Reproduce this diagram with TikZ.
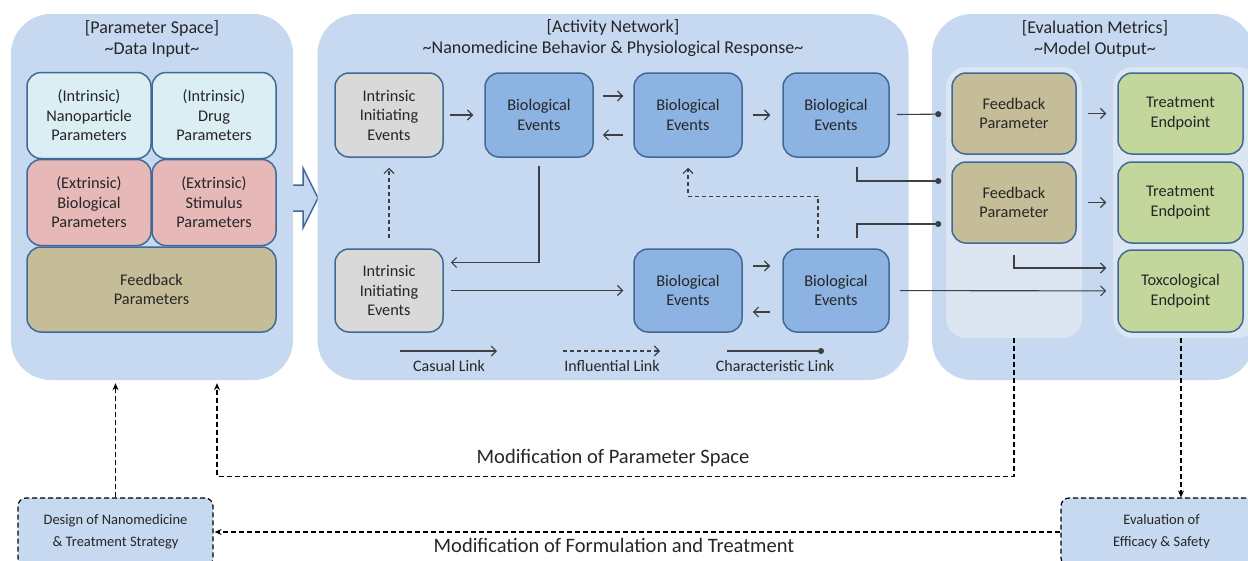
\documentclass[tikz,border=0pt]{standalone}
\usepackage{fontspec}
\setmainfont{Carlito}
\usetikzlibrary{arrows.meta,calc}
\definecolor{panel}{HTML}{C6D9F1}
\definecolor{subpanel}{HTML}{DCE6F2}
\definecolor{boxline}{HTML}{3F6A98}
\definecolor{bioblue}{HTML}{8DB3E2}
\definecolor{grayev}{HTML}{D9D9D9}
\definecolor{cyanbox}{HTML}{DAEEF3}
\definecolor{pinkbox}{HTML}{E6B9B8}
\definecolor{khaki}{HTML}{C4BD97}
\definecolor{greenbox}{HTML}{C3D69B}
\definecolor{link}{HTML}{404040}
\definecolor{txt}{HTML}{262626}
\begin{document}
\begin{tikzpicture}[x=1pt,y=-1pt,
  panelbox/.style={fill=panel, draw=none, rounded corners=40pt},
  subbox/.style={fill=subpanel, draw=none, rounded corners=20pt},
  box/.style={draw=boxline, line width=1.5pt, rounded corners=14pt, text=txt,
    align=center, font=\fontsize{16.3}{19.5}\selectfont, inner sep=2pt},
  bio/.style={box, fill=bioblue, minimum width=108pt, minimum height=84pt},
  initev/.style={box, fill=grayev, minimum width=108pt, minimum height=84pt},
  parbox/.style={box, minimum width=124pt, minimum height=86pt},
  evalbox/.style={box, minimum width=124pt, minimum height=81pt},
  title/.style={text=txt, align=center, font=\fontsize{18}{21}\selectfont},
  legend/.style={text=txt, font=\fontsize{16}{18}\selectfont},
  causal/.style={draw=link, line width=1.1pt, -{Straight Barb[length=5pt,width=10pt]}},
  infl/.style={causal, dash pattern=on 4pt off 3pt},
  charl/.style={draw=link, line width=1.1pt, -{Circle[length=6pt,width=6pt]}},
  loop/.style={draw=black, line width=1.2pt, dash pattern=on 5pt off 3pt,
    -{Stealth[length=7pt,width=6pt]}},
  stepnote/.style={fill=panel, draw=black, line width=1.2pt, dash pattern=on 5pt off 3pt,
    rounded corners=8pt, text=txt, align=center, font=\fontsize{14.5}{22}\selectfont}
]
\useasboundingbox (0,0) rectangle (1248,560);
\clip (0,0) rectangle (1248,560);

% hollow arrow from the parameter space to the network
\draw[fill=panel, draw=boxline, line width=1.5pt, line join=miter]
  (284,185) -- (303,185) -- (303,168) -- (318,198) -- (303,228) -- (303,211) -- (284,211);

% three panels
\node[panelbox, minimum width=282pt, minimum height=366pt] (p1) at (152,197) {};
\node[panelbox, minimum width=591pt, minimum height=366pt] (p2) at (613,197) {};
\node[panelbox, minimum width=322pt, minimum height=366pt] (p3) at (1093,197) {};
\node[subbox, minimum width=136pt, minimum height=271pt] (evl) at (1014,202.5) {};
\node[subbox, minimum width=144pt, minimum height=271pt] (evr) at (1185,202.5) {};

\node[title] (t1) at (152,39) {[Parameter Space]\\\textasciitilde Data Input\textasciitilde};
\node[title] (t2) at (613,38) {[Activity Network]\\\textasciitilde Nanomedicine Behavior \& Physiological Response\textasciitilde};
\node[title] (t3) at (1095,39) {[Evaluation Metrics]\\\textasciitilde Model Output\textasciitilde};

% parameter space
\node[parbox, fill=cyanbox] (np) at (89,115.5) {(Intrinsic)\\Nanoparticle\\Parameters};
\node[parbox, fill=cyanbox] (dp) at (214,115.5) {(Intrinsic)\\Drug\\Parameters};
\node[parbox, fill=pinkbox] (bp) at (89,202.5) {(Extrinsic)\\Biological\\Parameters};
\node[parbox, fill=pinkbox] (sp) at (214,202.5) {(Extrinsic)\\Stimulus\\Parameters};
\node[box, fill=khaki, minimum width=249pt, minimum height=85pt] (fbp) at (151.5,289.5) {Feedback\\Parameters};

% activity network
\node[initev] (ie1) at (389,115) {Intrinsic\\Initiating\\Events};
\node[bio] (b1) at (539,115) {Biological\\Events};
\node[bio] (b2) at (688,115) {Biological\\Events};
\node[bio, minimum width=106pt] (b3) at (836,115) {Biological\\Events};
\node[initev, minimum height=83pt] (ie2) at (389,290.5) {Intrinsic\\Initiating\\Events};
\node[bio, minimum height=83pt] (b4) at (688,290.5) {Biological\\Events};
\node[bio, minimum width=106pt, minimum height=83pt] (b5) at (836,290.5) {Biological\\Events};

% evaluation metrics
\node[evalbox, fill=khaki] (fp1) at (1014,113.5) {Feedback\\Parameter};
\node[evalbox, fill=khaki] (fp2) at (1014,202.5) {Feedback\\Parameter};
\node[evalbox, fill=greenbox, minimum width=125pt] (te1) at (1180.5,113.5) {Treatment\\Endpoint};
\node[evalbox, fill=greenbox, minimum width=125pt] (te2) at (1180.5,202.5) {Treatment\\Endpoint};
\node[evalbox, fill=greenbox, minimum width=125pt, minimum height=82pt] (tox) at (1180.5,291) {Toxcological\\Endpoint};

% causal links
\draw[causal, shorten <=6pt, shorten >=11pt] (ie1) -- (b1);
\draw[causal, shorten <=9pt, shorten >=10pt] ($(b1.east)+(0,-19)$) -- ($(b2.west)+(0,-19)$);
\draw[causal, shorten <=10pt, shorten >=9pt] ($(b2.west)+(0,20)$) -- ($(b1.east)+(0,20)$);
\draw[causal, shorten <=10pt, shorten >=12pt] (b2) -- (b3);
\draw[causal] ($(b1.south)+(0,8)$) |- ($(ie2.east)+(7,-28)$);
\draw[causal, shorten <=7pt, shorten >=10pt] (ie2) -- (b4);
\draw[causal, shorten <=10pt, shorten >=12pt] ($(b4.east)+(0,-24.5)$) -- ($(b5.west)+(0,-24.5)$);
\draw[causal, shorten <=12pt, shorten >=10pt] ($(b5.west)+(0,21.5)$) -- ($(b4.east)+(0,21.5)$);
\draw[causal, shorten <=10pt, shorten >=11pt] (b5) -- (tox);
\draw[causal, shorten <=11pt, shorten >=11pt] (fp1) -- (te1);
\draw[causal, shorten <=11pt, shorten >=11pt] (fp2) -- (te2);
\draw[causal] ($(fp2.south)+(0,11)$) |- ($(tox.west)+(-11,-23)$);

% influential links
\draw[infl, shorten <=10pt, shorten >=10pt] (ie2) -- (ie1);
\draw[infl] ($(b5.north)+(-18,-10)$) -- ++(0,-42) -| ($(b2.south)+(0,10)$);

% characteristic links
\draw[charl, shorten <=7pt, shorten >=10pt] (b3) -- (fp1);
\draw[charl] ($(b3.south)+(21,9)$) |- ($(fp2.west)+(-10,-21.5)$);
\draw[charl] ($(b5.north)+(21,-10)$) |- ($(fp2.west)+(-10,21.5)$);

% legend
\coordinate (lc1) at (400,351); \coordinate (lc2) at (497,351);
\coordinate (li1) at (563,351); \coordinate (li2) at (660,351);
\coordinate (lh1) at (727,351); \coordinate (lh2) at (824,351);
\draw[causal] (lc1) -- (lc2);
\draw[infl] (li1) -- (li2);
\draw[charl] (lh1) -- (lh2);
\node[legend] (lct) at (449,366) {Casual Link};
\node[legend] (lit) at (612,366) {Influential Link};
\node[legend] (lht) at (775,366) {Characteristic Link};

% design and evaluation loop
\node[stepnote, minimum width=195pt, minimum height=68pt] (design) at (115.5,532) {Design of Nanomedicine\\\& Treatment Strategy};
\node[stepnote, minimum width=201pt, minimum height=68pt] (evalnode) at (1161.5,532) {Evaluation of\\Efficacy \& Safety};

\coordinate (p1b) at ($(p1.south)+(0,3)$);
\coordinate (p1c) at ($(p1.south)+(65,3)$);
\coordinate (evq) at ($(evr.south)+(-4,0)$);
\draw[loop] (evl.south) -- ++(0,138) -| (p1c);
\draw[loop] (evq) -- (evq |- evalnode.north);
\draw[loop] (design.north) -- (design.north |- p1b);
\draw[loop, shorten >=1pt] (evalnode.west) -- (design.east);

\node[text=txt, font=\fontsize{20.5}{24}\selectfont] (mps) at (613,458) {Modification of Parameter Space};
\node[text=txt, font=\fontsize{20.5}{24}\selectfont] (mft) at (614,545) {Modification of Formulation and Treatment};
\end{tikzpicture}
\end{document}
